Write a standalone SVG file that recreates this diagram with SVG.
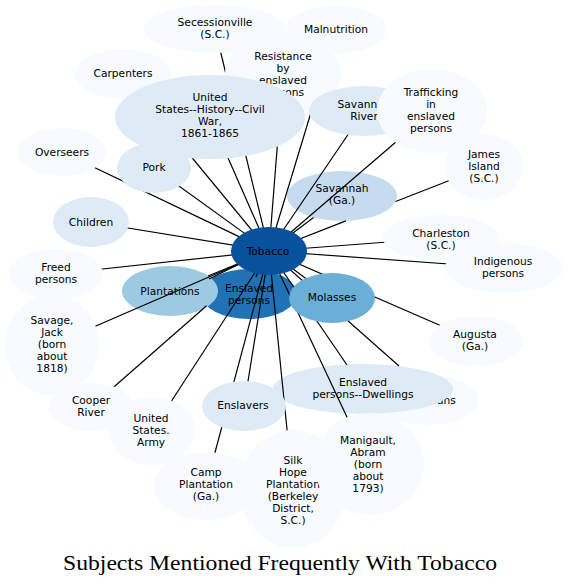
<svg xmlns="http://www.w3.org/2000/svg" width="568" height="585" viewBox="0 0 568 585">
<style>
text{font-family:"DejaVu Sans","Noto Sans",sans-serif;font-size:10.67px;fill:#000;text-anchor:middle}
.c0{fill:#f7fbff}.c1{fill:#deebf7}.c2{fill:#c6dbef}.c3{fill:#9ecae1}.c4{fill:#6baed6}.c6{fill:#2171b5}.c7{fill:#08519c}
#edges path{stroke:#000;stroke-width:1.2;fill:none}
.title{font-family:"Liberation Serif","Times New Roman",serif;font-size:22px}
</style>
<rect width="568" height="585" fill="#fff"/>
<g id="nodes-lower">
<g id="n-physicians"><ellipse class="c0" cx="428" cy="400" rx="50" ry="25"/><text x="428" y="404">Physicians</text></g>
<g id="n-dwellings"><ellipse class="c1" cx="363" cy="389" rx="90" ry="25"/><text x="363" y="386">Enslaved</text><text x="363" y="398">persons--Dwellings</text></g>
<g id="n-enslaved"><ellipse class="c6" cx="249" cy="294" rx="48" ry="25"/><text x="249" y="292">Enslaved</text><text x="249" y="304">persons</text></g>
<g id="n-plantations"><ellipse class="c3" cx="170" cy="291" rx="48" ry="25"/><text x="170" y="295">Plantations</text></g>
<g id="n-savga"><ellipse class="c2" cx="342" cy="196" rx="55" ry="25"/><text x="342" y="192">Savannah</text><text x="342" y="204">(Ga.)</text></g>
</g>
<g id="edges">
<path d="M269,251L215,29"/>
<path d="M269,251L336,30"/>
<path d="M269,251L283,74"/>
<path d="M269,251L123,74"/>
<path d="M269,251L210,117"/>
<path d="M269,251L62,152"/>
<path d="M269,251L154,168"/>
<path d="M269,251L364,111"/>
<path d="M269,251L432,111"/>
<path d="M269,251L345.9,220.9M395.6,201.5L484,167"/>
<path d="M269,251L313.6,217.4"/>
<path d="M269,251L91,222"/>
<path d="M269,251L441,238"/>
<path d="M269,251L504,268"/>
<path d="M269,251L56,274"/>
<path d="M269,251L208,276"/>
<path d="M269,251Q240,263 209,279"/>
<path d="M258,272L256,277"/>
<path d="M269,251L332,298"/>
<path d="M269,251L52,345"/>
<path d="M269,251L476,341"/>
<path d="M206.6,305.7L91,407"/>
<path d="M269,251L152,431"/>
<path d="M269,251L244,406"/>
<path d="M269,251L347,365"/>
<path d="M269,251L399,366"/>
<path d="M269,251L206,486"/>
<path d="M269,251L293,489"/>
<path d="M269,251L369,464"/>
</g>
<g id="nodes-upper">
<g id="n-secessionville"><ellipse class="c0" cx="215" cy="29" rx="71" ry="24"/><text x="215" y="26">Secessionville</text><text x="215" y="38">(S.C.)</text></g>
<g id="n-malnutrition"><ellipse class="c0" cx="336" cy="30" rx="50" ry="24"/><text x="336" y="33">Malnutrition</text></g>
<g id="n-resistance"><ellipse class="c0" cx="283" cy="74" rx="58" ry="40"/><text x="283" y="60">Resistance</text><text x="283" y="72">by</text><text x="283" y="84">enslaved</text><text x="283" y="96">persons</text></g>
<g id="n-carpenters"><ellipse class="c0" cx="123" cy="74" rx="48" ry="25"/><text x="123" y="77">Carpenters</text></g>
<g id="n-civilwar"><ellipse class="c1" cx="210" cy="117" rx="95" ry="42"/><text x="210" y="101">United</text><text x="210" y="113">States--History--Civil</text><text x="210" y="125">War,</text><text x="210" y="137">1861-1865</text></g>
<g id="n-overseers"><ellipse class="c0" cx="62" cy="152" rx="44" ry="24"/><text x="62" y="156">Overseers</text></g>
<g id="n-pork"><ellipse class="c1" cx="154" cy="168" rx="37" ry="25"/><text x="154" y="171">Pork</text></g>
<g id="n-savriver"><ellipse class="c1" cx="364" cy="111" rx="55" ry="25"/><text x="364" y="108">Savannah</text><text x="364" y="120">River</text></g>
<g id="n-trafficking"><ellipse class="c0" cx="432" cy="111" rx="55" ry="42"/><text x="431" y="96">Trafficking</text><text x="431" y="108">in</text><text x="431" y="120">enslaved</text><text x="431" y="132">persons</text></g>
<g id="n-james"><ellipse class="c0" cx="484" cy="167" rx="39" ry="33"/><text x="484" y="158">James</text><text x="484" y="170">Island</text><text x="484" y="182">(S.C.)</text></g>
<g id="n-children"><ellipse class="c1" cx="91" cy="222" rx="38" ry="25"/><text x="91" y="226">Children</text></g>
<g id="n-charleston"><ellipse class="c0" cx="441" cy="238" rx="58" ry="23"/><text x="441" y="237">Charleston</text><text x="441" y="249">(S.C.)</text></g>
<g id="n-indigenous"><ellipse class="c0" cx="504" cy="268" rx="59" ry="25"/><text x="503" y="265">Indigenous</text><text x="503" y="277">persons</text></g>
<g id="n-freed"><ellipse class="c0" cx="56" cy="274" rx="47" ry="25"/><text x="56" y="271">Freed</text><text x="56" y="283">persons</text></g>
<g id="n-molasses"><ellipse class="c4" cx="332" cy="298" rx="43" ry="25"/><text x="332" y="301">Molasses</text></g>
<g id="n-savage"><ellipse class="c0" cx="52" cy="345" rx="47" ry="50"/><text x="52" y="324">Savage,</text><text x="52" y="336">Jack</text><text x="52" y="348">(born</text><text x="52" y="360">about</text><text x="52" y="372">1818)</text></g>
<g id="n-augusta"><ellipse class="c0" cx="476" cy="341" rx="47" ry="25"/><text x="475" y="338">Augusta</text><text x="475" y="350">(Ga.)</text></g>
<g id="n-cooper"><ellipse class="c0" cx="91" cy="407" rx="43" ry="24"/><text x="91" y="404">Cooper</text><text x="91" y="416">River</text></g>
<g id="n-army"><ellipse class="c0" cx="152" cy="431" rx="43" ry="34"/><text x="151" y="422">United</text><text x="151" y="434">States.</text><text x="151" y="446">Army</text></g>
<g id="n-enslavers"><ellipse class="c1" cx="244" cy="406" rx="42" ry="25"/><text x="243" y="409">Enslavers</text></g>
<g id="n-camp"><ellipse class="c0" cx="206" cy="486" rx="52" ry="34"/><text x="206" y="476">Camp</text><text x="206" y="488">Plantation</text><text x="206" y="500">(Ga.)</text></g>
<g id="n-silk"><ellipse class="c0" cx="293" cy="489" rx="53" ry="59"/><text x="293" y="464">Silk</text><text x="293" y="476">Hope</text><text x="293" y="488">Plantation</text><text x="293" y="500">(Berkeley</text><text x="293" y="512">District,</text><text x="293" y="524">S.C.)</text></g>
<g id="n-manigault"><ellipse class="c0" cx="369" cy="464" rx="55" ry="51"/><text x="368" y="444">Manigault,</text><text x="368" y="456">Abram</text><text x="368" y="468">(born</text><text x="368" y="480">about</text><text x="368" y="492">1793)</text></g>
<g id="n-tobacco"><ellipse class="c7" cx="269" cy="251" rx="38" ry="24"/><text x="268" y="255">Tobacco</text></g>
</g>
<text class="title" x="280" y="570" textLength="434" lengthAdjust="spacingAndGlyphs">Subjects Mentioned Frequently With Tobacco</text>
</svg>
